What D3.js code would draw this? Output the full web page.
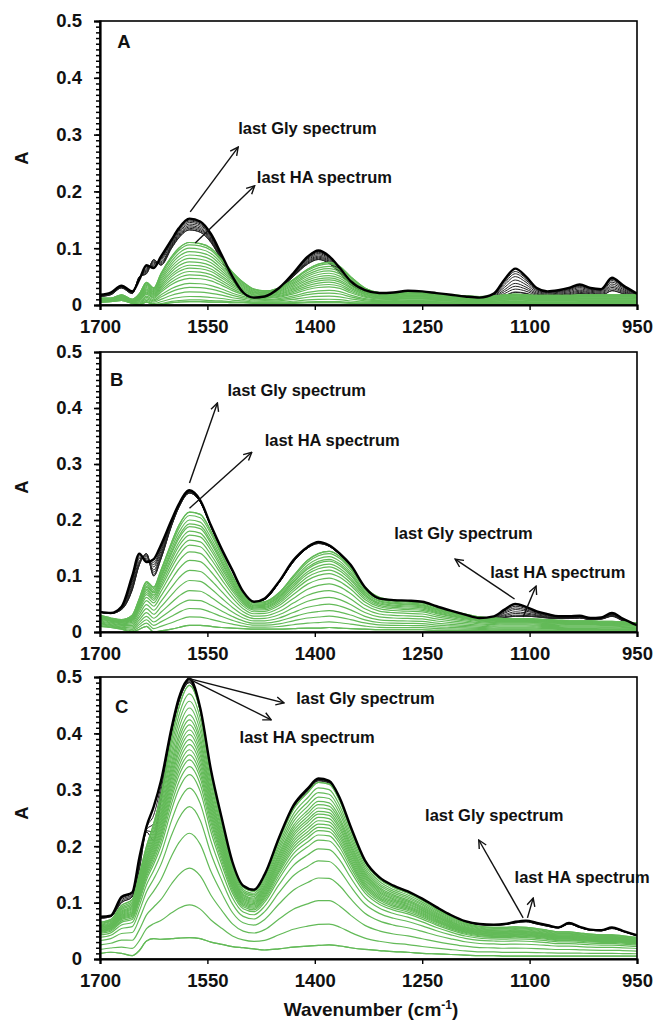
<!DOCTYPE html>
<html>
<head>
<meta charset="utf-8">
<script src="https://cdn.jsdelivr.net/npm/d3@7"></script>
<style>
  body { margin: 0; background: #fff; }
  svg { display: block; font-family: Arial, "Liberation Sans", sans-serif; font-weight: bold; }
</style>
</head>
<body>
<div class="charts-div"></div>
<script>
// wavenumber grid (cm-1) shared by all spectra
const wavenumbers = [1700,1685,1670,1655,1645,1635,1625,1615,1600,1590,1575,1560,1545,1530,1515,1500,1485,1470,1450,1430,1410,1395,1380,1365,1350,1330,1310,1290,1270,1250,1230,1210,1190,1170,1150,1135,1120,1105,1090,1075,1060,1045,1030,1015,1000,985,970,950];

const xTicks = [1700, 1550, 1400, 1250, 1100, 950];
const yTicks = [0, 0.1, 0.2, 0.3, 0.4, 0.5];

// ---- panel A ----
const glyLastA  = [.018,.022,.034,.024,.045,.07,.065,.085,.115,.135, .152,.147,.125,.088,.05,.022,.013,.015,.03,.056, .085,.096,.086,.065,.042,.026,.021,.022,.025,.024, .021,.018,.015,.013,.02,.045,.064,.05,.03,.024, .026,.03,.036,.03,.028,.048,.035,.02];
const glyFirstA = [.015,.018,.03,.02,.05,.055,.08,.07,.1,.118, .132,.128,.11,.078,.044,.02,.012,.014,.027,.05, .072,.08,.073,.056,.036,.022,.018,.02,.022,.02, .018,.015,.012,.01,.012,.016,.022,.02,.015,.014, .015,.016,.02,.018,.016,.025,.02,.012];
const haLastA   = [.012,.012,.018,.01,.02,.04,.03,.055,.085,.1, .11,.108,.1,.08,.058,.04,.028,.025,.03,.045, .063,.072,.075,.068,.05,.03,.022,.02,.022,.022, .02,.018,.016,.015,.016,.018,.019,.018,.017,.017, .017,.017,.018,.018,.018,.018,.018,.018];
const haFirstA  = [.005,.006,.008,.003,0,.005,0,.001,.004,.005, .006,.006,.005,.005,.004,.004,.003,.003,.003,.003, .004,.004,.004,.004,.003,.003,.003,.003,.003,.003, .003,.003,.002,.002,.002,.002,.002,.002,.002,.002, .002,.002,.002,.002,.002,.002,.002,.002];
const glyLevelsA = [0.023, 0.028, 0.033, 0.038, 0.044, 0.05, 0.055, 0.059];           // at 1120
const haLevelsA  = [0.006, 0.009, 0.015, 0.023, 0.031, 0.038, 0.047, 0.053, 0.059, 0.065, 0.07, 0.076, 0.082, 0.088, 0.094, 0.1, 0.106, 0.11]; // at 1575

// ---- panel B ----
const glyLastB  = [.036,.034,.045,.1,.14,.125,.13,.155,.2,.228, .253,.235,.19,.148,.11,.072,.054,.06,.09,.128, .152,.161,.155,.14,.12,.08,.06,.057,.056,.054, .046,.038,.031,.025,.028,.04,.05,.045,.037,.032, .028,.028,.029,.025,.026,.034,.024,.012];
const glyFirstB = [.035,.033,.04,.075,.12,.14,.1,.13,.19,.222, .248,.232,.188,.146,.108,.07,.053,.058,.088,.125, .15,.158,.153,.138,.118,.078,.059,.056,.055,.053, .045,.037,.03,.024,.024,.026,.028,.028,.027,.025, .024,.024,.025,.022,.023,.028,.02,.01];
const haLastB   = [.03,.025,.022,.03,.06,.09,.08,.11,.16,.19, .214,.21,.18,.14,.1,.068,.053,.054,.07,.1, .128,.14,.144,.135,.115,.08,.062,.057,.055,.053, .045,.038,.032,.027,.025,.024,.024,.024,.023,.022, .021,.02,.02,.02,.019,.019,.018,.016];
const haFirstB  = [.01,.008,.005,0,.005,.01,0,.002,.005,.008, .012,.012,.01,.008,.007,.006,.005,.005,.005,.006, .007,.007,.008,.007,.006,.005,.004,.004,.004,.004, .003,.003,.003,.003,.002,.002,.002,.002,.002,.002, .002,.002,.002,.002,.002,.002,.002,.002];
const glyLevelsB = [0.028, 0.03, 0.033, 0.036, 0.04, 0.043, 0.046];                   // at 1120
const haLevelsB  = [0.012, 0.027, 0.042, 0.057, 0.074, 0.092, 0.11, 0.128, 0.143, 0.155, 0.164, 0.173, 0.18, 0.188, 0.193, 0.2, 0.208, 0.214]; // at 1575

// ---- panel C ----
const glyLastC  = [.075,.077,.11,.118,.18,.235,.27,.315,.41,.462, .497,.445,.335,.25,.172,.13,.123,.15,.215,.272, .302,.32,.316,.285,.235,.175,.145,.13,.12,.107, .092,.078,.067,.062,.061,.062,.066,.068,.064,.06, .056,.064,.057,.052,.051,.056,.05,.042];
const glyFirstC = [.072,.075,.1,.11,.16,.225,.21,.28,.4,.455, .49,.44,.33,.248,.17,.128,.121,.148,.212,.268, .298,.316,.312,.282,.232,.173,.143,.128,.118,.105, .09,.076,.066,.061,.06,.061,.064,.066,.062,.058, .055,.062,.056,.051,.05,.054,.049,.041];
const haLastC   = [.065,.07,.095,.105,.15,.2,.24,.29,.39,.445, .485,.44,.332,.245,.168,.127,.12,.147,.21,.265, .295,.313,.31,.28,.23,.172,.142,.127,.117,.104, .088,.075,.064,.058,.056,.056,.057,.056,.054,.051, .048,.048,.046,.044,.043,.043,.041,.038];
const haFirstC  = [.01,.012,.01,.006,.015,.032,.036,.035,.036,.037, .038,.036,.03,.026,.022,.02,.018,.016,.018,.021, .023,.024,.025,.023,.02,.017,.015,.013,.012,.01, .009,.008,.007,.006,.006,.005,.005,.005,.005,.005, .005,.005,.005,.005,.005,.005,.005,.005];
const glyLevelsC = [0.21, 0.225, 0.24, 0.255];                                         // at 1625
const haLevelsC  = [0.038, 0.096, 0.161, 0.223, 0.27, 0.303, 0.327, 0.341, 0.353, 0.362, 0.371, 0.38, 0.389, 0.398, 0.406, 0.415, 0.424, 0.433, 0.445, 0.457, 0.47, 0.485]; // at 1575

// annotations: [label, arrow from (wn, A), arrow to (wn, A), text at (wn, A)]
const notesA = [
    ["last Gly spectrum", [1574, 0.164], [1507, 0.278], [1507, 0.312]],
    ["last HA spectrum", [1567, 0.109], [1484, 0.21], [1481, 0.225]]
];
const notesB = [
    ["last Gly spectrum", [1575, 0.266], [1536, 0.409], [1522, 0.432]],
    ["last HA spectrum", [1575, 0.221], [1488, 0.321], [1470, 0.343]],
    ["last Gly spectrum", [1121, 0.059], [1204, 0.13], [1289, 0.177]],
    ["last HA spectrum", [1109, 0.027], [1091, 0.082], [1155, 0.107]]
];
const notesC = [
    ["last Gly spectrum", [1578, 0.498], [1443, 0.454], [1426, 0.463]],
    ["last HA spectrum", [1578, 0.498], [1461, 0.424], [1505, 0.394]],
    ["last Gly spectrum", [1109, 0.073], [1171, 0.211], [1246, 0.255]],
    ["last HA spectrum", [1103, 0.073], [1095, 0.108], [1121, 0.145]]
];

const panels = [
    { letter: "A", top: 21, bottom: 305, glyLast: glyLastA, glyFirst: glyFirstA, haLast: haLastA, haFirst: haFirstA,
      glyLevels: glyLevelsA, glyRef: 1120, haLevels: haLevelsA, haRef: 1575, notes: notesA, letterPos: [1676, 0.463] },
    { letter: "B", top: 352, bottom: 632, glyLast: glyLastB, glyFirst: glyFirstB, haLast: haLastB, haFirst: haFirstB,
      glyLevels: glyLevelsB, glyRef: 1120, haLevels: haLevelsB, haRef: 1575, notes: notesB, letterPos: [1686, 0.45] },
    { letter: "C", top: 677, bottom: 959, glyLast: glyLastC, glyFirst: glyFirstC, haLast: haLastC, haFirst: haFirstC,
      glyLevels: glyLevelsC, glyRef: 1625, haLevels: haLevelsC, haRef: 1575, notes: notesC, letterPos: [1679, 0.447] }
];

const GREEN = "#63ba58";
const left = 100, right = 637;

const svg = d3.select(".charts-div").append("svg")
    .attr("width", 657).attr("height", 1020);

svg.append("defs").append("marker")
    .attr("id", "arrow")
    .attr("viewBox", "0 0 10 10")
    .attr("refX", 9).attr("refY", 5)
    .attr("markerUnits", "userSpaceOnUse")
    .attr("markerWidth", 10).attr("markerHeight", 10)
    .attr("orient", "auto")
    .append("path")
    .attr("d", "M1,1 L9,5 L1,9")
    .attr("fill", "none").attr("stroke", "#111").attr("stroke-width", 1.4);

// spectrum between first and last, placed by its level at a reference wavenumber
const between = (first, last, level, ref) => {
    const i = wavenumbers.indexOf(ref);
    const t = (level - first[i]) / (last[i] - first[i]);
    return first.map((v, k) => v + (last[k] - v) * t);
};

panels.forEach((p, pi) => {
    const x = d3.scaleLinear().domain([1700, 950]).range([left, right]);
    const y = d3.scaleLinear().domain([0, 0.5]).range([p.bottom, p.top]);

    const g = svg.append("g");

    g.append("clipPath").attr("id", `clip${pi}`)
        .append("rect")
        .attr("x", left).attr("y", p.top)
        .attr("width", right - left).attr("height", p.bottom - p.top);

    const line = d3.line()
        .x((d, i) => x(wavenumbers[i]))
        .y((d) => y(d))
        .curve(d3.curveMonotoneX);

    const plot = g.append("g").attr("clip-path", `url(#clip${pi})`);

    const haSpectra = p.haLevels.map((lv) => between(p.haFirst, p.haLast, lv, p.haRef));
    const glySpectra = p.glyLevels.map((lv) => between(p.glyFirst, p.glyLast, lv, p.glyRef));

    plot.selectAll("path.gly")
        .data([p.glyFirst, ...glySpectra])
        .join("path")
        .attr("class", "gly")
        .attr("d", line)
        .attr("fill", "none")
        .attr("stroke", "#222")
        .attr("stroke-width", 1);

    plot.selectAll("path.ha")
        .data([p.haFirst, ...haSpectra, p.haLast])
        .join("path")
        .attr("class", "ha")
        .attr("d", line)
        .attr("fill", "none")
        .attr("stroke", GREEN)
        .attr("stroke-width", 1.2);

    plot.append("path")
        .datum(p.glyLast)
        .attr("d", line)
        .attr("fill", "none")
        .attr("stroke", "#000")
        .attr("stroke-width", 2.4);

    // frame
    g.append("rect")
        .attr("x", left).attr("y", p.top)
        .attr("width", right - left).attr("height", p.bottom - p.top)
        .attr("fill", "none").attr("stroke", "#000").attr("stroke-width", 1.6);

    // y axis: minor ticks then major ticks with labels
    g.append("g")
        .attr("transform", `translate(${left},0)`)
        .call(d3.axisLeft(y).tickValues(d3.range(0, 0.5001, 0.01)).tickSize(4).tickFormat(""))
        .call((a) => a.select(".domain").remove())
        .selectAll("line").attr("stroke-width", 1.5);

    const yAxis = g.append("g")
        .attr("transform", `translate(${left},0)`)
        .call(d3.axisLeft(y).tickValues(yTicks).tickSize(6).tickPadding(12)
            .tickFormat((d) => (d === 0 ? "0" : d3.format(".1f")(d))));
    yAxis.select(".domain").attr("stroke-width", 2.2);
    yAxis.selectAll("line").attr("stroke-width", 1.6);
    yAxis.selectAll("text").attr("font-size", 18.5).attr("font-weight", "bold").attr("fill", "#111")
        .attr("font-family", "Arial, 'Liberation Sans', sans-serif");

    const xAxis = g.append("g")
        .attr("transform", `translate(0,${p.bottom})`)
        .call(d3.axisBottom(x).tickValues(xTicks).tickSize(5).tickPadding(10).tickFormat(d3.format("d")));
    xAxis.select(".domain").attr("stroke-width", 2.2);
    xAxis.selectAll("line").attr("stroke-width", 1.4);
    xAxis.selectAll("text").attr("font-size", 18.5).attr("font-weight", "bold").attr("fill", "#111")
        .attr("font-family", "Arial, 'Liberation Sans', sans-serif");

    // y title
    g.append("text")
        .attr("transform", `translate(28,${(p.top + p.bottom) / 2 - 5}) rotate(-90)`)
        .attr("text-anchor", "middle")
        .attr("font-size", 18.5)
        .attr("fill", "#111")
        .text("A");

    // panel letter
    g.append("text")
        .attr("x", x(p.letterPos[0])).attr("y", y(p.letterPos[1]))
        .attr("dy", "0.35em")
        .attr("font-size", 18.5)
        .attr("fill", "#111")
        .text(p.letter);

    // annotations
    p.notes.forEach(([label, from, to, at]) => {
        g.append("line")
            .attr("x1", x(from[0])).attr("y1", y(from[1]))
            .attr("x2", x(to[0])).attr("y2", y(to[1]))
            .attr("stroke", "#111").attr("stroke-width", 1.4)
            .attr("marker-end", "url(#arrow)");
        g.append("text")
            .attr("x", x(at[0])).attr("y", y(at[1]))
            .attr("dy", "0.35em")
            .attr("font-size", 16.5)
            .attr("fill", "#111")
            .text(label);
    });
});

// x title
const xt = svg.append("text")
    .attr("x", 371).attr("y", 1016)
    .attr("text-anchor", "middle")
    .attr("font-size", 19)
    .attr("fill", "#111");
xt.append("tspan").text("Wavenumber (cm");
xt.append("tspan").attr("font-size", 12).attr("dy", -7).text("-1");
xt.append("tspan").attr("dy", 7).text(")");
</script>
</body>
</html>
